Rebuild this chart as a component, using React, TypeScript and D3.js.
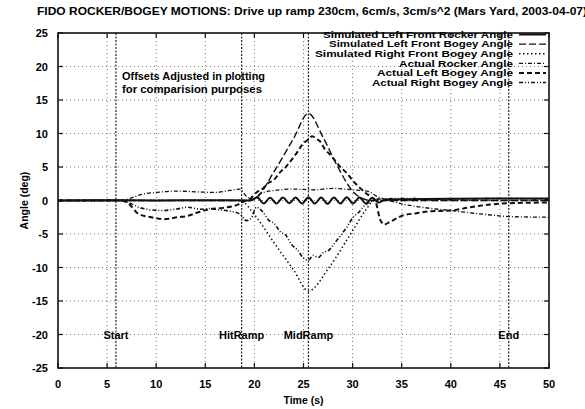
import * as d3 from "d3";
import { useEffect, useRef } from "react";

type Pt = [number, number];

const titleText =
  "FIDO ROCKER/BOGEY MOTIONS: Drive up ramp 230cm, 6cm/s, 3cm/s^2 (Mars Yard, 2003-04-07)";

const xTicks = [0, 5, 10, 15, 20, 25, 30, 35, 40, 45, 50];
const yTicks = [25, 20, 15, 10, 5, 0, -5, -10, -15, -20, -25];

const seriesNames = [
  "Simulated Left Front Rocker Angle",
  "Simulated Left Front Bogey Angle",
  "Simulated Right Front Bogey Angle",
  "Actual Rocker Angle",
  "Actual Left Bogey Angle",
  "Actual Right Bogey Angle",
];
// printed widths of the key entries (the scan is stretched sideways)
const legendWidths = [190, 184, 198, 114, 136, 141];

const markerNames = ["Start", "HitRamp", "MidRamp", "End"];
const markerTimes = [5.9, 18.7, 25.5, 45.9];

const noteLines = ["Offsets Adjusted in plotting", "for comparision purposes"];
const noteWidths = [143, 140];

// [time (s), angle (deg)]
const simLeftRocker: Pt[] = [
  [0, 0], [5, 0.05], [10, 0], [15, 0.05], [19.6, 0],
  [20.3, 0.45], [20.95, -0.45], [21.6, 0.4], [22.25, -0.45], [22.9, 0.45],
  [23.55, -0.4], [24.2, 0.45], [24.85, -0.45], [25.5, 0.5], [26.15, -0.45],
  [26.8, 0.45], [27.45, -0.5], [28.1, 0.45], [28.75, -0.45], [29.4, 0.5],
  [30.05, -0.45], [30.7, 0.45], [31.35, -0.45], [32.0, 0.4], [32.65, -0.3],
  [33.4, 0.15], [36, 0.2], [40, 0.25], [45, 0.3], [50, 0.3],
];

const simLeftBogey: Pt[] = [
  [0, 0], [19.5, 0], [20.2, 0.4], [22, 4.3], [24, 9.3], [25.5, 13],
  [27, 9.4], [28.5, 5.0], [30, 1.4], [31, 0.3], [32, 0], [50, 0],
];

const simRightBogey: Pt[] = [
  [0, 0], [18.5, 0], [20.2, -2.5], [22, -6.3], [24, -10.4], [25.5, -13.5],
  [27.6, -10], [30, -4.5], [31.3, -1.5], [32.2, 0], [50, 0],
];

const actualRocker: Pt[] = [
  [0, 0], [6.5, 0], [7.5, 0.4], [8.5, 0.9], [10, 1.2], [12, 1.4], [14, 1.3],
  [16, 1.2], [17.5, 1.5], [18.5, 1.7], [19.2, 0.6], [19.8, 0.2], [20.6, 1.0],
  [22, 1.5], [24, 1.7], [26, 1.6], [28, 1.8], [30, 1.6], [31.5, 1.4],
  [32.5, 0.6], [33.5, 0.1], [35, -0.5], [37, -1.0], [40, -1.5], [43, -2.0],
  [46, -2.4], [50, -2.5],
];

const actualLeftBogey: Pt[] = [
  [0, 0], [6.5, 0], [7.2, -0.5], [8.2, -2.0], [9.5, -2.5], [10.8, -2.8],
  [12.2, -2.5], [13.2, -2.3], [14.2, -1.8], [15.5, -1.3], [16.8, -1.1],
  [18.2, -0.7], [19, -0.1], [19.6, 0.3], [20.2, 1.2], [20.8, 1.7], [21.4, 2.6],
  [22, 3.1], [22.6, 4.2], [23.2, 5.0], [23.8, 6.1], [24.4, 7.3], [24.9, 8.4],
  [25.4, 9.0], [25.9, 9.6], [26.3, 9.2], [26.7, 8.8], [27.2, 7.6], [27.6, 7.0],
  [28.2, 6.0], [28.8, 4.9], [29.4, 4.1], [30, 3.0], [30.6, 2.1], [31.2, 1.3],
  [31.8, 0.6], [32.3, 0], [32.8, -2.8], [33.2, -3.6], [33.8, -3.2], [35, -2.3],
  [36.5, -1.9], [38, -1.6], [40, -1.5], [42, -1.0], [44, -0.6], [46, -0.4],
  [50, -0.3],
];

const actualRightBogey: Pt[] = [
  [0, 0], [6.5, 0], [7.2, -0.3], [8.2, -1.0], [9, -1.3], [10.5, -1.5],
  [12, -1.3], [13.2, -1.0], [14.5, -1.3], [15.5, -1.2], [16.5, -1.4],
  [17.5, -1.6], [18.5, -2.0], [19.2, -3.0], [19.7, -2.6], [20.2, -1.0],
  [20.8, -1.6], [21.5, -3.0], [22, -3.4], [22.6, -4.6], [23.2, -5.2],
  [23.8, -6.6], [24.4, -7.4], [25, -8.6], [25.5, -8.9], [26, -8.2], [26.5, -8.5],
  [27, -7.8], [27.6, -7.4], [28.2, -6.3], [28.8, -5.2], [29.4, -4.0],
  [30, -2.6], [30.6, -1.8], [31.2, -0.8], [31.8, -0.2], [32.5, 0.2], [35, 0.3],
  [40, 0.2], [45, 0.3], [50, 0.2],
];

const allSeries = [
  simLeftRocker,
  simLeftBogey,
  simRightBogey,
  actualRocker,
  actualLeftBogey,
  actualRightBogey,
];

const dashes = ["none", "7,3", "1.5,2.5", "4,2,1,2", "5,3", "4,2,1,2,1,2"];
const widths = [2, 1.4, 1.5, 1.3, 2, 1.6];

const FONT = "'Liberation Sans', Arial, sans-serif";

const App = () => {
  const svgRef = useRef<SVGSVGElement | null>(null);

  useEffect(() => {
    const W = 585;
    const H = 409;
    const plot = { left: 58, right: 549, top: 33, bottom: 368 };

    const svg = d3.select(svgRef.current);
    svg.selectAll("*").remove();
    svg.attr("width", W).attr("height", H).style("font-family", FONT);

    svg.append("rect").attr("width", W).attr("height", H).attr("fill", "white");

    const x = d3.scaleLinear().domain([0, 50]).range([plot.left, plot.right]);
    const y = d3.scaleLinear().domain([-25, 25]).range([plot.bottom, plot.top]);

    // grid
    const grid = svg.append("g").attr("stroke", "#555").attr("stroke-width", 0.8)
      .attr("stroke-dasharray", "1,3");
    xTicks.slice(1, -1).forEach((t) => {
      grid.append("line").attr("x1", x(t)).attr("x2", x(t))
        .attr("y1", plot.top).attr("y2", plot.bottom);
    });
    yTicks.slice(1, -1).forEach((v) => {
      grid.append("line").attr("x1", plot.left).attr("x2", plot.right)
        .attr("y1", y(v)).attr("y2", y(v));
    });

    // event markers
    markerTimes.forEach((t, i) => {
      svg.append("line")
        .attr("x1", x(t)).attr("x2", x(t))
        .attr("y1", plot.top).attr("y2", plot.bottom)
        .attr("stroke", "#222").attr("stroke-width", 1.2)
        .attr("stroke-dasharray", "2,1.5");
      svg.append("text")
        .attr("x", x(t)).attr("y", y(-20) + 4)
        .attr("text-anchor", "middle")
        .style("font-size", "11px").style("font-weight", "bold")
        .text(markerNames[i]);
    });

    // frame + ticks
    svg.append("rect")
      .attr("x", plot.left).attr("y", plot.top)
      .attr("width", plot.right - plot.left).attr("height", plot.bottom - plot.top)
      .attr("fill", "none").attr("stroke", "#111").attr("stroke-width", 1.6);

    const tickG = svg.append("g").attr("stroke", "#111").attr("stroke-width", 1.2);
    xTicks.forEach((t) => {
      tickG.append("line").attr("x1", x(t)).attr("x2", x(t))
        .attr("y1", plot.bottom).attr("y2", plot.bottom - 5);
      tickG.append("line").attr("x1", x(t)).attr("x2", x(t))
        .attr("y1", plot.top).attr("y2", plot.top + 5);
      svg.append("text")
        .attr("x", x(t)).attr("y", plot.bottom + 20)
        .attr("text-anchor", "middle")
        .style("font-size", "11px").style("font-weight", "bold")
        .text(String(t));
    });
    yTicks.forEach((v) => {
      tickG.append("line").attr("x1", plot.left).attr("x2", plot.left + 5)
        .attr("y1", y(v)).attr("y2", y(v));
      tickG.append("line").attr("x1", plot.right).attr("x2", plot.right - 5)
        .attr("y1", y(v)).attr("y2", y(v));
      svg.append("text")
        .attr("x", plot.left - 10).attr("y", y(v) + 4)
        .attr("text-anchor", "end")
        .style("font-size", "11px").style("font-weight", "bold")
        .text(String(v));
    });

    // series
    const line = d3.line<Pt>()
      .x((d) => x(d[0]))
      .y((d) => y(d[1]))
      .curve(d3.curveMonotoneX);

    allSeries.forEach((s, i) => {
      svg.append("path")
        .datum(s)
        .attr("d", line)
        .attr("fill", "none")
        .attr("stroke", "#111")
        .attr("stroke-width", widths[i])
        .attr("stroke-dasharray", dashes[i]);
    });

    // legend
    const legendRight = 513;
    seriesNames.forEach((name, i) => {
      const ly = 34.5 + i * 9.6;
      svg.append("text")
        .attr("x", legendRight - legendWidths[i]).attr("y", ly + 3.2)
        .attr("textLength", legendWidths[i])
        .attr("lengthAdjust", "spacingAndGlyphs")
        .style("font-size", "9px").style("font-weight", "bold")
        .text(name);
      svg.append("line")
        .attr("x1", 519).attr("x2", 546)
        .attr("y1", ly).attr("y2", ly)
        .attr("stroke", "#111").attr("stroke-width", widths[i])
        .attr("stroke-dasharray", dashes[i]);
    });

    // note
    noteLines.forEach((txt, i) => {
      svg.append("text")
        .attr("x", 122).attr("y", 80 + i * 13)
        .attr("textLength", noteWidths[i])
        .attr("lengthAdjust", "spacingAndGlyphs")
        .style("font-size", "10.5px").style("font-weight", "bold")
        .text(txt);
    });

    // title and axis labels
    svg.append("text")
      .attr("x", 37).attr("y", 15)
      .attr("textLength", 550)
      .attr("lengthAdjust", "spacingAndGlyphs")
      .style("font-size", "11px").style("font-weight", "bold")
      .text(titleText);

    svg.append("text")
      .attr("transform", `translate(28, ${(plot.top + plot.bottom) / 2}) rotate(-90)`)
      .attr("text-anchor", "middle")
      .style("font-size", "10.5px").style("font-weight", "bold")
      .text("Angle (deg)");

    svg.append("text")
      .attr("x", (plot.left + plot.right) / 2).attr("y", 404)
      .attr("text-anchor", "middle")
      .style("font-size", "10.5px").style("font-weight", "bold")
      .text("Time (s)");
  }, []);

  return (
    <svg ref={svgRef} style={{ position: "absolute", left: 0, top: 0 }} />
  );
};

export default App;
